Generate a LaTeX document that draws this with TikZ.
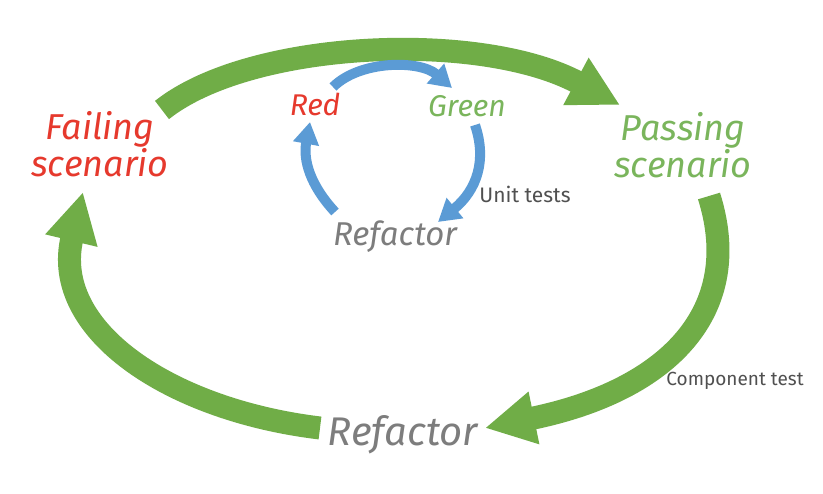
\documentclass[tikz,border=0pt]{standalone}
\usepackage{fontspec}
\setmainfont{Fira Sans}
\usetikzlibrary{arrows.meta}
\definecolor{arrgreen}{RGB}{112,173,71}
\definecolor{arrblue}{RGB}{91,155,213}
\definecolor{txtred}{RGB}{230,57,45}
\definecolor{txtgreen}{RGB}{122,181,92}
\definecolor{txtgrey}{RGB}{125,125,125}
\definecolor{txtlabel}{RGB}{80,80,80}
\begin{document}
\begin{tikzpicture}[x=1pt,y=-1pt,
  bigarrow/.style={line width=23pt, color=arrgreen, -{Triangle[length=50pt,width=50pt]}},
  smallarrow/.style={line width=10pt, color=arrblue, -{Triangle[length=22pt,width=25pt]}},
  bigtext/.style={font=\fontsize{36}{37}\selectfont\itshape, align=center, inner sep=0pt},
  midtext/.style={font=\fontsize{30}{32}\selectfont\itshape, inner sep=0pt, anchor=base},
  labeltext/.style={font=\fontsize{19}{21}\selectfont, text=txtlabel, inner sep=0pt, anchor=base}]
\useasboundingbox (0,0) rectangle (823,494);
\fill[white] (0,0) rectangle (823,494);

% texts
\node[bigtext, text=txtred] (fail) at (100,144) {Failing\\scenario};
\node[bigtext, text=txtgreen] (pass) at (683,145) {Passing\\scenario};
\node[bigtext, text=txtgrey, anchor=base, font=\fontsize{40}{42}\selectfont\itshape] (refbig) at (403,446) {Refactor};
\node[midtext, text=txtred] (red) at (315,116) {Red};
\node[midtext, text=txtgreen] (green) at (467,117) {Green};
\node[midtext, text=txtgrey, font=\fontsize{33}{35}\selectfont\itshape] (refsmall) at (395,246) {Refactor};
\node[labeltext, font=\fontsize{21}{23}\selectfont] (unit) at (525,203) {Unit tests};
\node[labeltext] (comp) at (735,386) {Component test};

% connector end points
\coordinate (t1) at (162,110);
\coordinate (h1) at (620,105);
\coordinate (t2) at (709,196);
\coordinate (h2) at (485,428);
\coordinate (t3) at (320,428);
\coordinate (h3) at (83,192);
\coordinate (b1) at (333,87);
\coordinate (c1) at (452,88);
\coordinate (b2) at (475,125);
\coordinate (c2) at (438,222);
\coordinate (b3) at (335,212);
\coordinate (c3) at (310,122);

% green cycle
\draw[bigarrow] (t1) .. controls (250,40) and (480,30) .. (h1);
\draw[bigarrow] (t2) .. controls (745,310) and (670,390) .. (h2);
\draw[bigarrow] (t3) .. controls (170,410) and (50,330) .. (h3);

% blue cycle
\draw[smallarrow] (b1) .. controls (360,60) and (420,60) .. (c1);
\draw[smallarrow] (b2) .. controls (487,160) and (477,190) .. (c2);
\draw[smallarrow] (b3) .. controls (310,185) and (303,160) .. (c3);
\end{tikzpicture}
\end{document}
